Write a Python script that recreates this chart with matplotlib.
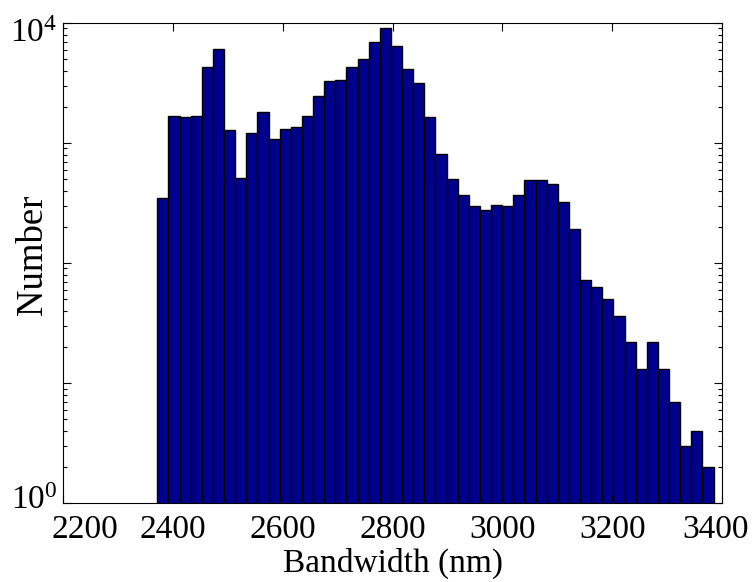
import numpy as np
import matplotlib
matplotlib.use("Agg")
import matplotlib.pyplot as plt
from matplotlib.transforms import ScaledTranslation
from matplotlib.ticker import FixedLocator, FuncFormatter, LogLocator, NullFormatter

plt.rcParams['font.family'] = ['Liberation Serif', 'DejaVu Serif']
plt.rcParams['mathtext.fontset'] = 'custom'
plt.rcParams['mathtext.rm'] = 'Liberation Serif'
plt.rcParams['mathtext.it'] = 'Liberation Serif:italic'

# histogram: 50 bins between min and max bandwidth
bin_lo = 2371.6
bin_hi = 3384.6
counts = [348, 1667, 1634, 1667, 4300, 6110, 1274, 507, 1211, 1799,
          1086, 1315, 1349, 1667, 2445, 3288, 3372, 4300, 5040, 6950,
          9080, 6380, 4160, 3183, 1634, 809, 498, 371, 296, 274,
          306, 296, 371, 495, 495, 458, 322, 193, 72, 63,
          50, 36, 22, 13, 22, 13, 7, 3, 4, 2]
xticks = [2200, 2400, 2600, 2800, 3000, 3200, 3400]

edges = np.linspace(bin_lo, bin_hi, len(counts) + 1)
width = edges[1] - edges[0]

fig = plt.figure(figsize=(7.54, 5.82), dpi=100)
ax = fig.add_axes([0.0836, 0.1357, 0.8740, 0.8248])

ax.bar(edges[:-1], counts, width=width, align='edge',
       color=(0, 0, 0.56), edgecolor='black', linewidth=1.0)

ax.set_yscale('log')
ax.set_ylim(1, 1e4)
ax.set_xlim(2200, 3400)
ax.set_xticks(xticks)
ax.set_xticklabels([str(t) for t in xticks])

ax.yaxis.set_major_locator(FixedLocator([1, 10, 100, 1000, 10000]))
ax.yaxis.set_major_formatter(FuncFormatter(
    lambda v, p: r'$10^{%d}$' % round(np.log10(v)) if v in (1, 10000) else ''))
ax.yaxis.set_minor_locator(LogLocator(base=10, subs=np.arange(2, 10)))
ax.yaxis.set_minor_formatter(NullFormatter())

ax.tick_params(which='both', direction='in', top=True, right=True,
               labelsize=24, width=0.8)
ax.tick_params(which='major', length=6)
ax.tick_params(which='minor', length=3)
ax.tick_params(axis='x', pad=8)
ax.tick_params(axis='y', pad=4)

# nudge end labels like the original (avoid overlaps / figure edge)
def nudge(lbl, dx, dy):
    lbl.set_transform(lbl.get_transform() + ScaledTranslation(dx / 100, dy / 100, fig.dpi_scale_trans))

xt = ax.xaxis.get_major_ticks()
nudge(xt[0].label1, 22, 0)
nudge(xt[-1].label1, -6, 0)
yt = ax.yaxis.get_major_ticks()
nudge(yt[0].label1, 0, 6)
nudge(yt[-1].label1, 0, -7)

for s in ax.spines.values():
    s.set_linewidth(0.8)

ax.set_xlabel('Bandwidth (nm)', fontsize=24, va='top')
ax.xaxis.set_label_coords(0.5, -0.094)
ax.set_ylabel('Number', fontsize=26.5)
ax.yaxis.set_label_coords(-0.02, 0.517)

fig.savefig('out.png', dpi=100)
